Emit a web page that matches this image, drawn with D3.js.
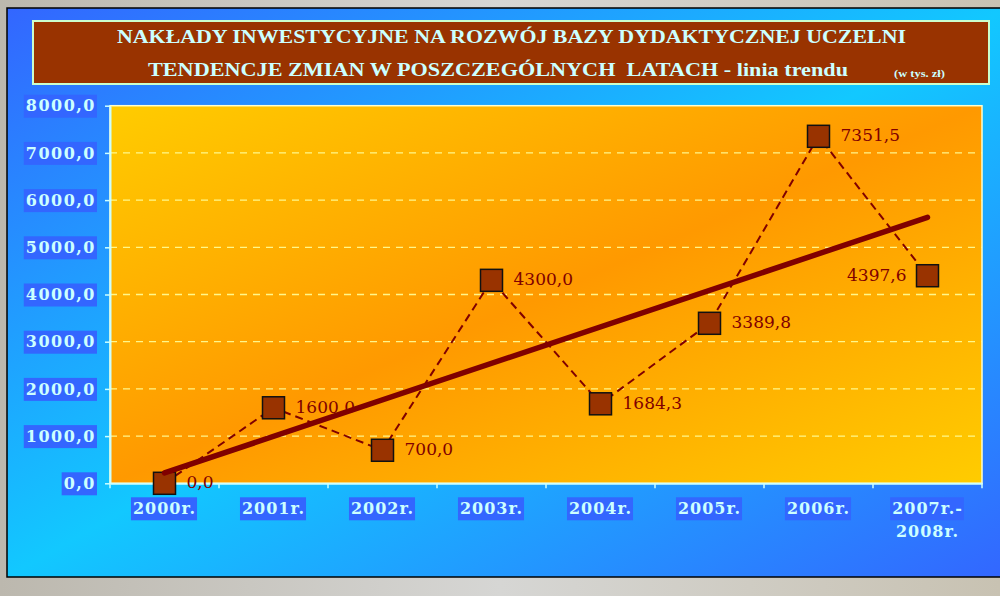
<!DOCTYPE html>
<html>
<head>
<meta charset="utf-8">
<script src="https://cdn.jsdelivr.net/npm/d3@7"></script>
<style>
body { margin: 0; background: #cfcfcf; }
svg { display: block; }
</style>
</head>
<body>
<svg width="1000" height="596"></svg>
<script>
// data
var categories = ["2000r.", "2001r.", "2002r.", "2003r.", "2004r.", "2005r.", "2006r.", "2007r.-2008r."];
var values = [0, 1600, 700, 4300, 1684.3, 3389.8, 7351.5, 4397.6];
var yTicks = [0, 1000, 2000, 3000, 4000, 5000, 6000, 7000, 8000];
var titleLines = [
    "NAKŁADY INWESTYCYJNE NA ROZWÓJ BAZY DYDAKTYCZNEJ UCZELNI",
    "TENDENCJE ZMIAN W POSZCZEGÓLNYCH  LATACH - linia trendu"
];
var unitLabel = "(w tys. zł)";

var svg = d3.select("svg");
var defs = svg.append("defs");

// plnum format: 1000,0
var fmt = d3.formatLocale({decimal: ",", thousands: "", grouping: [3], currency: ["", ""]}).format(".1f");

function diagGradient(id, c1, c2) {
    var g = defs.append("linearGradient").attr("id", id)
        .attr("x1", 0).attr("y1", 0).attr("x2", 1).attr("y2", 1);
    g.append("stop").attr("offset", 0).attr("stop-color", c1);
    g.append("stop").attr("offset", 0.5).attr("stop-color", c2);
    g.append("stop").attr("offset", 1).attr("stop-color", c1);
}
diagGradient("panelGrad", "#3366ff", "#12c8ff");
diagGradient("plotGrad", "#ffcc00", "#ff9900");

var bg = defs.append("linearGradient").attr("id", "bgGrad").attr("x1", 0).attr("x2", 1);
bg.append("stop").attr("offset", 0).attr("stop-color", "#bcb8ae");
bg.append("stop").attr("offset", 0.5).attr("stop-color", "#d6d6d4");
bg.append("stop").attr("offset", 1).attr("stop-color", "#c8c2b2");

// outer photo-ish background + blue panel
svg.append("rect").attr("width", 1000).attr("height", 596).attr("fill", "url(#bgGrad)");
svg.append("rect")
    .attr("x", 7).attr("y", 8).attr("width", 1000).attr("height", 569)
    .attr("fill", "url(#panelGrad)")
    .attr("stroke", "#000").attr("stroke-width", 1.5);

// title box
svg.append("rect")
    .attr("x", 33).attr("y", 21).attr("width", 956).attr("height", 63)
    .attr("fill", "#993300")
    .attr("stroke", "#ccffcc").attr("stroke-width", 2);

var titleFont = "'Liberation Serif', 'Times New Roman', serif";
svg.append("text")
    .attr("x", 511.5).attr("y", 43)
    .attr("text-anchor", "middle")
    .attr("textLength", 789).attr("lengthAdjust", "spacingAndGlyphs")
    .style("font", "bold 19px " + titleFont)
    .attr("fill", "#ccffff")
    .text(titleLines[0]);
svg.append("text")
    .attr("x", 148).attr("y", 76)
    .attr("textLength", 700).attr("lengthAdjust", "spacingAndGlyphs")
    .style("font", "bold 19px " + titleFont)
    .style("white-space", "pre")
    .attr("fill", "#ccffff")
    .text(titleLines[1]);
svg.append("text")
    .attr("x", 894).attr("y", 77)
    .attr("textLength", 51).attr("lengthAdjust", "spacingAndGlyphs")
    .style("font", "bold 10px " + titleFont)
    .attr("fill", "#ccffff")
    .text(unitLabel);

// scales
var x = d3.scaleBand().domain(categories).range([110, 982]);
var y = d3.scaleLinear().domain([0, 8000]).range([483.3, 105.7]);
var bw = x.bandwidth();
function cx(i) { return x(categories[i]) + bw / 2; }

// plot area
svg.append("rect")
    .attr("x", x.range()[0]).attr("y", y(8000))
    .attr("width", x.range()[1] - x.range()[0]).attr("height", y(0) - y(8000))
    .attr("fill", "url(#plotGrad)")
    .attr("stroke", "#ffffcc").attr("stroke-width", 1.5);

svg.append("g").selectAll("line")
    .data(yTicks.filter(function(t) { return t > 0 && t < 8000; }))
    .enter().append("line")
    .attr("x1", x.range()[0]).attr("x2", x.range()[1])
    .attr("y1", function(d) { return y(d); })
    .attr("y2", function(d) { return y(d); })
    .attr("stroke", "#ffff99").attr("stroke-opacity", 0.9)
    .attr("stroke-width", 1.3)
    .attr("stroke-dasharray", "7,6");

var axisFont = "bold 16px 'DejaVu Serif', serif";
var axisColor = "#ccffff";
var boxColor = "#3366ff";

// y axis
var yAxis = svg.append("g")
    .attr("transform", "translate(" + x.range()[0] + ",0)")
    .call(d3.axisLeft(y).tickValues(yTicks).tickFormat(fmt)
        .tickSize(5).tickSizeOuter(0).tickPadding(9));
yAxis.select(".domain").attr("stroke", axisColor).attr("stroke-width", 2);
yAxis.selectAll(".tick line").attr("stroke", axisColor).attr("stroke-width", 1.5);
yAxis.selectAll(".tick text")
    .style("font", axisFont).style("letter-spacing", "1.5px")
    .attr("fill", axisColor);
yAxis.selectAll(".tick").each(function() {
    var t = d3.select(this).select("text");
    var b = t.node().getBBox();
    d3.select(this).insert("rect", "text")
        .attr("x", b.x - 2).attr("y", -11.5)
        .attr("width", b.width + 3).attr("height", 23)
        .attr("fill", boxColor);
});

// x axis: labels centred in bands, ticks on the band edges
var xAxis = svg.append("g")
    .attr("transform", "translate(0," + y(0) + ")")
    .call(d3.axisBottom(x).tickSize(0).tickSizeOuter(0).tickPadding(19));
xAxis.select(".domain").attr("stroke", axisColor).attr("stroke-width", 2);
xAxis.selectAll(".tick text")
    .style("font", axisFont).style("letter-spacing", "1px")
    .attr("fill", axisColor)
    .attr("dy", null)
    .each(function(d) {
        var t = d3.select(this);
        var lines = d.split(/(?<=-)/);
        t.text(null);
        lines.forEach(function(s, i) {
            t.append("tspan").attr("x", 0).attr("dy", i ? "1.44em" : "0.71em").text(s);
        });
    });
xAxis.selectAll(".tick").each(function() {
    var b = d3.select(this).select("text").node().getBBox();
    d3.select(this).insert("rect", "text")
        .attr("x", b.x - 2).attr("y", 14)
        .attr("width", b.width + 3).attr("height", 23)
        .attr("fill", boxColor);
});
xAxis.selectAll(".edge")
    .data(d3.range(categories.length + 1))
    .enter().append("line")
    .attr("x1", function(i) { return x.range()[0] + i * bw; })
    .attr("x2", function(i) { return x.range()[0] + i * bw; })
    .attr("y1", 0).attr("y2", 5)
    .attr("stroke", axisColor).attr("stroke-width", 1.5);

// dashed series line
var line = d3.line()
    .x(function(d, i) { return cx(i); })
    .y(function(d) { return y(d); });
svg.append("path")
    .datum(values)
    .attr("d", line)
    .attr("fill", "none")
    .attr("stroke", "#800000").attr("stroke-width", 2)
    .attr("stroke-dasharray", "8,5");

// markers
svg.append("g").selectAll("rect")
    .data(values)
    .enter().append("rect")
    .attr("x", function(d, i) { return cx(i) - 11; })
    .attr("y", function(d) { return y(d) - 11; })
    .attr("width", 22).attr("height", 22)
    .attr("fill", "#993300")
    .attr("stroke", "#111").attr("stroke-width", 1.5);

// least squares trend line
var n = values.length;
var mx = d3.mean(d3.range(n)), my = d3.mean(values);
var sxy = d3.sum(values, function(v, i) { return (i - mx) * (v - my); });
var sxx = d3.sum(d3.range(n), function(i) { return (i - mx) * (i - mx); });
var slope = sxy / sxx, icpt = my - slope * mx;
svg.append("line")
    .attr("x1", cx(0)).attr("y1", y(icpt))
    .attr("x2", cx(n - 1)).attr("y2", y(icpt + slope * (n - 1)))
    .attr("stroke", "#800000").attr("stroke-width", 5.5)
    .attr("stroke-linecap", "round");

// value labels
svg.append("g").selectAll("text")
    .data(values)
    .enter().append("text")
    .attr("x", function(d, i) { return i === n - 1 ? cx(i) - 21 : cx(i) + 22; })
    .attr("y", function(d) { return y(d) + 5; })
    .attr("text-anchor", function(d, i) { return i === n - 1 ? "end" : "start"; })
    .style("font", "17px 'DejaVu Serif', serif")
    .attr("fill", "#800000")
    .text(function(d) { return fmt(d); });
</script>
</body>
</html>
